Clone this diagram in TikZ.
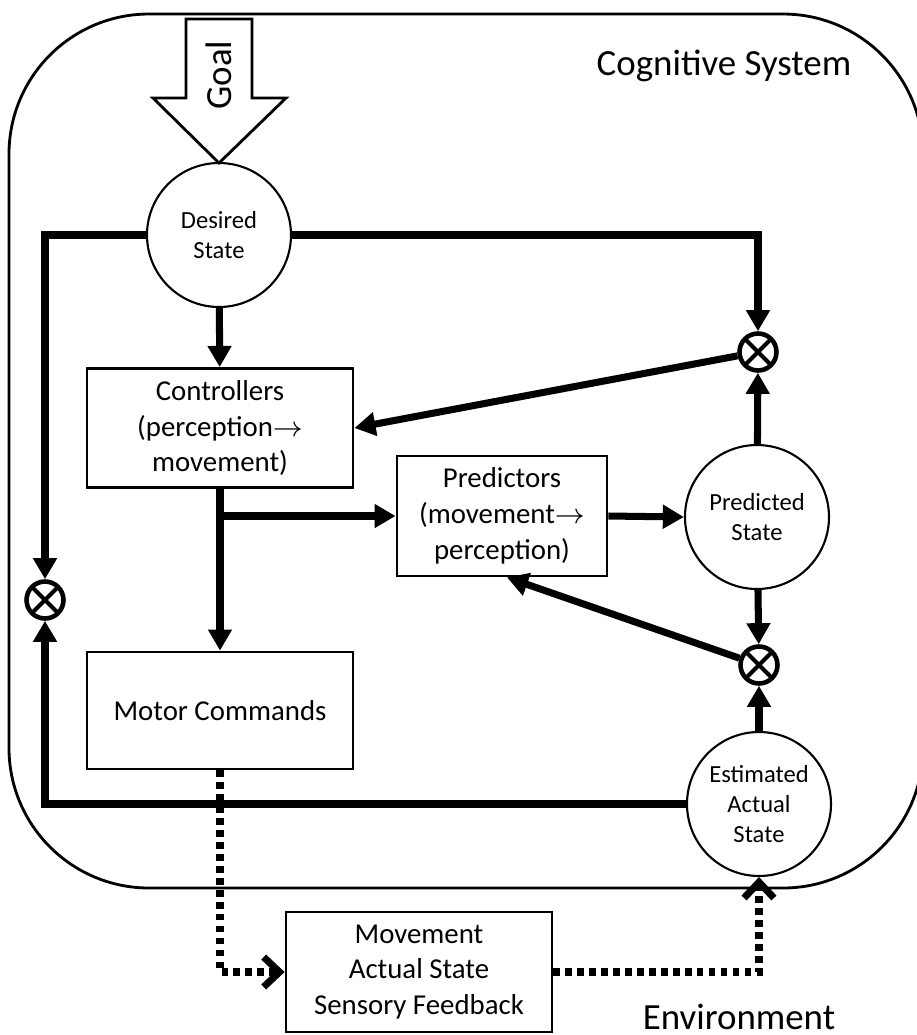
\documentclass[tikz,border=0pt]{standalone}
\usepackage{fontspec}
\setmainfont{Carlito}
\usetikzlibrary{arrows.meta}

\begin{document}
\begin{tikzpicture}[
  state/.style={circle,draw,line width=0.6pt,minimum size=1.44cm,inner sep=0pt,
    align=center,font=\fontsize{7}{8.5}\selectfont},
  block/.style={rectangle,draw,line width=0.8pt,align=center,
    font=\fontsize{8.2}{10.2}\selectfont},
  summer/.style={circle,draw,line width=1.3pt,minimum size=0.37cm,inner sep=0pt,
    path picture={\draw[line width=1.2pt]
      (path picture bounding box.north west) -- (path picture bounding box.south east)
      (path picture bounding box.north east) -- (path picture bounding box.south west);}},
  flow/.style={line width=2pt,-{Triangle[length=6pt,width=6.5pt]}},
  sense/.style={line width=2pt,dash pattern=on 1.9pt off 1.5pt,
    -{Straight Barb[length=4.5pt,width=8.5pt,line width=2pt]}},
  big/.style={font=\fontsize{10.5}{12.6}\selectfont}
]
  \useasboundingbox (0,0) rectangle (9.17,-10.35);
  \draw[line width=0.8pt,rounded corners=1.4cm] (0.09,-0.14) rectangle (9.23,-8.88);
  \node[big] (cogsys) at (7.24,-0.66) {Cognitive System};
  \node[big] (environment) at (7.39,-10.17) {Environment};

  % goal arrow
  \draw[line width=0.8pt,fill=white] (1.86,-0.19)--(2.52,-0.19)--(2.52,-0.98)--(2.86,-0.98)
    --(2.19,-1.63)--(1.53,-0.98)--(1.86,-0.98)--cycle;
  \node[big,rotate=90] (goal) at (2.19,-0.75) {Goal};

  \node[state] (desired) at (2.19,-2.35) {Desired\\State};
  \node[state] (predicted) at (7.57,-5.17) {Predicted\\State};
  \node[state] (estimated) at (7.59,-8.04) {Estimated\\Actual\\State};

  \node[summer] (sumtop) at (7.58,-3.52) {};
  \node[summer] (sumlow) at (7.59,-6.65) {};
  \node[summer] (sumleft) at (0.45,-6.0) {};

  \node[block,minimum width=2.66cm,minimum height=1.18cm] (controllers) at (2.20,-4.28)
    {Controllers\\(perception$\rightarrow$\\movement)};
  \node[block,minimum width=2.10cm,minimum height=1.20cm] (predictors) at (5.02,-5.16)
    {Predictors\\(movement$\rightarrow$\\perception)};
  \node[block,minimum width=2.66cm,minimum height=1.17cm] (motor) at (2.20,-7.105)
    {Motor Commands};
  \node[block,minimum width=2.66cm,minimum height=1.20cm] (movement) at (4.19,-9.72)
    {Movement\\Actual State\\Sensory Feedback};

  % forward paths
  \draw[flow] (desired) -- (controllers);
  \draw[flow] (desired.west) -| (sumleft);
  \draw[flow] (desired.east) -| (sumtop);
  \draw[flow] (sumtop) -- (controllers.east);
  \draw[flow] (predicted) -- (sumtop);
  \draw[flow] (controllers) -- (motor);
  \coordinate (branch) at (controllers.south |- predictors.west);
  \draw[flow] (branch) -- (predictors.west);
  \draw[flow] (predictors.east) -- (predicted.west);
  \draw[flow] (predicted) -- (sumlow);
  \draw[flow] (sumlow) -- ([xshift=0.05cm]predictors.south);
  \draw[flow] (estimated) -- (sumlow);
  \draw[flow] (estimated.west) -| (sumleft);

  % through the environment
  \draw[sense] (motor.south) |- (movement.west);
  \draw[sense] (movement.east) -| (estimated.south);
\end{tikzpicture}
\end{document}
